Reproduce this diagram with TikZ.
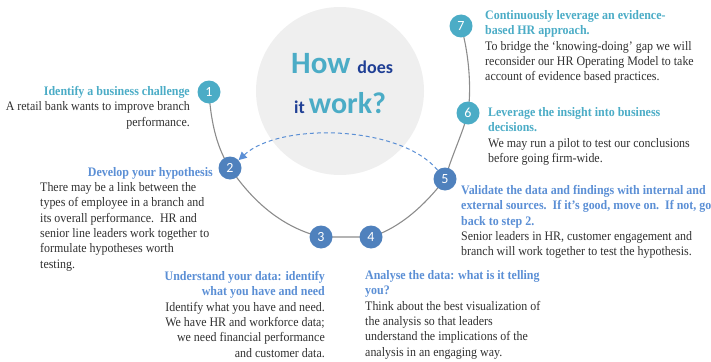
\documentclass[tikz,border=0pt]{standalone}
\usepackage{fontspec}
\setmainfont{Liberation Serif}[FakeStretch=0.92]
\newfontfamily\calibri{Carlito}
\usetikzlibrary{arrows.meta,backgrounds}
\definecolor{stepteal}{HTML}{4BACC6}
\definecolor{stepblue}{HTML}{4F81BD}
\definecolor{headblue}{HTML}{5B8FD5}
\definecolor{darkblue}{HTML}{1F3F95}
\definecolor{bodygray}{HTML}{303030}
\definecolor{bggray}{HTML}{EFEFEF}
\definecolor{linegray}{HTML}{8C8C8C}

\begin{document}
\begin{tikzpicture}[x=1pt,y=-1pt,
  stepdot/.style={circle,fill=#1,minimum size=23pt,inner sep=0pt,text=white,
    font=\calibri\fontsize{14}{14}\selectfont},
  body/.style={inner sep=0pt,text=bodygray,font=\fontsize{13}{15.4}\selectfont},
  bluetitle/.style={body,text=headblue,font=\bfseries\fontsize{13}{15.4}\selectfont}]
  \useasboundingbox (0,0) rectangle (711,361);

  % the seven steps
  \node[stepdot=stepteal] (s1) at (209,92) {1};
  \node[stepdot=stepblue] (s2) at (230,168) {2};
  \node[stepdot=stepblue] (s3) at (321,237) {3};
  \node[stepdot=stepblue] (s4) at (371,237) {4};
  \node[stepdot=stepblue] (s5) at (445,179) {5};
  \node[stepdot=stepteal] (s6) at (468,113) {6};
  \node[stepdot=stepteal] (s7) at (461,26) {7};

  \begin{scope}[on background layer]
    \fill[bggray] (340,91) circle (84);
    \draw[linegray,line width=1.1pt]
      (s1.center) .. controls (211,125) and (218,150) .. (s2.center)
                  .. controls (255,205) and (285,228) .. (s3.center)
                  -- (s4.center)
                  .. controls (400,228) and (425,205) .. (s5.center)
                  .. controls (452,155) and (462,135) .. (s6.center)
                  .. controls (472,85) and (468,50) .. (s7.center);
  \end{scope}

  % back to step 2
  \draw[draw=headblue,line width=1pt,dash pattern=on 4pt off 3pt,
    -{Triangle[length=8pt,width=8pt,fill=headblue]}]
    (s5) .. controls (400,125) and (280,122) .. (s2);

  \node[anchor=base west,inner sep=0pt] (how) at (291,73)
    {\calibri\bfseries\fontsize{31}{31}\selectfont\color{stepteal}How
     \fontsize{18}{18}\selectfont\color{darkblue}does};
  \node[anchor=base west,inner sep=0pt] (work) at (294,113)
    {\calibri\bfseries\fontsize{18}{18}\selectfont\color{darkblue}it
     \fontsize{30}{30}\selectfont\color{stepteal}work?};

  \node[body,anchor=north east,align=right] (t1) at (190,86)
    {{\bfseries\color{stepteal}Identify a business challenge}\\
     A retail bank wants to improve branch\\performance.};

  \node[bluetitle,anchor=north east,align=right] (h2) at (213,167)
    {Develop your hypothesis};
  \node[body,anchor=north west,align=left] (t2) at (40,182)
    {There may be a link between the\\
     types of employee in a branch and\\
     its overall performance.\ \ HR and\\
     senior line leaders work together to\\
     formulate hypotheses worth\\
     testing.};

  \node[body,anchor=north east,align=right] (t3) at (325,271)
    {{\bfseries\color{headblue}Understand your data: identify}\\
     {\bfseries\color{headblue}what you have and need}\\
     Identify what you have and need.\\
     We have HR and workforce data;\\
     we need financial performance\\
     and customer data.};

  \node[body,anchor=north west,align=left] (t4) at (365,270)
    {{\bfseries\color{headblue}Analyse the data: what is it telling}\\
     {\bfseries\color{headblue}you?}\\
     Think about the best visualization of\\
     the analysis so that leaders\\
     understand the implications of the\\
     analysis in an engaging way.};

  \node[body,anchor=north west,align=left] (t5) at (461,185)
    {{\bfseries\color{headblue}Validate the data and findings with internal and}\\
     {\bfseries\color{headblue}external sources.\ \ If it’s good, move on.\ \ If not, go}\\
     {\bfseries\color{headblue}back to step 2.}\\
     Senior leaders in HR, customer engagement and\\
     branch will work together to test the hypothesis.};

  \node[body,anchor=north west,align=left] (t6) at (488,107)
    {{\bfseries\color{stepteal}Leverage the insight into business}\\
     {\bfseries\color{stepteal}decisions.}\\
     We may run a pilot to test our conclusions\\
     before going firm-wide.};

  \node[body,anchor=north west,align=left] (t7) at (485,10)
    {{\bfseries\color{stepteal}Continuously leverage an evidence-}\\
     {\bfseries\color{stepteal}based HR approach.}\\
     To bridge the ‘knowing-doing’ gap we will\\
     reconsider our HR Operating Model to take\\
     account of evidence based practices.};
\end{tikzpicture}
\end{document}
